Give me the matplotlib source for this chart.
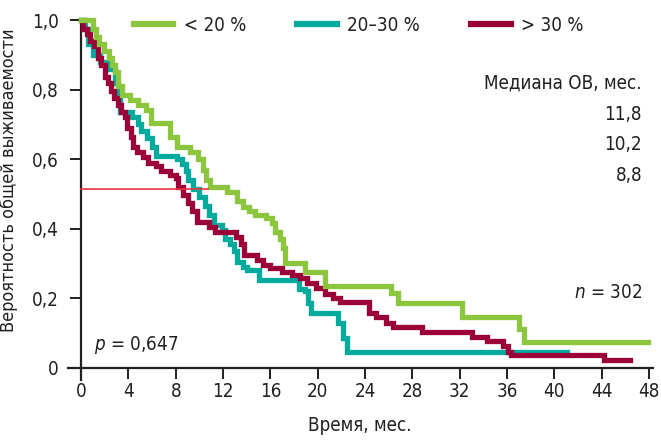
import matplotlib
matplotlib.use('Agg')
import matplotlib.pyplot as plt

plt.rcParams['font.family'] = ['DejaVu Sans']
plt.rcParams['font.stretch'] = 'condensed'
plt.rcParams['mathtext.fontset'] = 'dejavusans'

#**************************************************#
# data

green_t = [0, 1.0, 1.3, 1.5, 1.9, 2.4, 2.6, 2.9, 3.1, 3.5, 4.1, 4.8, 5.5, 5.9,
           7.5, 8.1, 9.2, 9.9, 10.3, 10.6, 10.9, 12.3, 13.2, 13.7, 14.2, 14.7,
           15.6, 16.1, 16.4, 16.8, 17.1, 17.2, 18.9, 20.6, 26.2, 26.8, 32.2,
           37.0, 37.4, 47.9]
green_s = [1.0, 0.975, 0.95, 0.93, 0.91, 0.89, 0.87, 0.85, 0.81, 0.785, 0.77,
           0.755, 0.74, 0.705, 0.665, 0.635, 0.62, 0.60, 0.57, 0.54, 0.52,
           0.505, 0.48, 0.463, 0.45, 0.44, 0.43, 0.415, 0.39, 0.37, 0.345,
           0.30, 0.275, 0.236, 0.216, 0.187, 0.147, 0.113, 0.073, 0.073]

teal_t = [0, 0.3, 0.6, 1.0, 1.6, 2.4, 2.9, 3.1, 3.3, 4.3, 4.8, 5.1, 5.6, 6.0,
          6.3, 8.1, 8.5, 8.9, 9.0, 9.5, 10.0, 10.5, 10.8, 11.2, 11.9, 12.2,
          12.6, 12.9, 13.2, 13.7, 14.0, 15.0, 18.4, 18.9, 19.2, 19.4, 21.7,
          22.1, 22.5, 41.1]
teal_s = [1.0, 0.975, 0.93, 0.90, 0.88, 0.86, 0.82, 0.79, 0.735, 0.72, 0.70,
          0.68, 0.66, 0.635, 0.61, 0.60, 0.585, 0.565, 0.54, 0.515, 0.49,
          0.465, 0.44, 0.41, 0.395, 0.37, 0.355, 0.335, 0.305, 0.29, 0.28,
          0.252, 0.228, 0.22, 0.187, 0.158, 0.128, 0.085, 0.045, 0.045]

red_t = [0, 0.2, 0.5, 0.8, 1.1, 1.4, 1.7, 2.0, 2.3, 2.5, 2.8, 3.1, 3.4, 3.7,
         3.9, 4.2, 4.4, 4.7, 5.2, 5.7, 6.3, 6.8, 7.5, 8.0, 8.2, 8.6, 9.0, 9.4,
         9.8, 10.8, 11.3, 13.1, 13.5, 13.8, 14.9, 15.4, 16.0, 17.0, 17.8,
         18.5, 19.1, 19.9, 20.6, 21.3, 21.9, 24.3, 24.9, 25.8, 26.4, 28.8,
         33.0, 34.3, 35.7, 36.1, 36.3, 44.2, 46.4]
red_s = [1.0, 0.975, 0.96, 0.94, 0.925, 0.89, 0.87, 0.835, 0.82, 0.795, 0.775,
         0.755, 0.735, 0.72, 0.69, 0.665, 0.635, 0.62, 0.605, 0.59, 0.58,
         0.565, 0.555, 0.545, 0.52, 0.497, 0.475, 0.45, 0.42, 0.405, 0.39,
         0.375, 0.355, 0.325, 0.31, 0.296, 0.287, 0.276, 0.266, 0.258, 0.244,
         0.23, 0.213, 0.20, 0.19, 0.158, 0.147, 0.13, 0.118, 0.104, 0.09,
         0.077, 0.062, 0.045, 0.037, 0.022, 0.022]

labels = ['< 20 %', '20–30 %', '> 30 %']
colors = ['#8cc63f', '#00ab9e', '#9c0038']
medians = ['11,8', '10,2', '8,8']
median_line_t = [0, 10.7]
median_line_s = [0.515, 0.515]

x_ticks = list(range(0, 49, 4))
y_ticks = [0, 0.2, 0.4, 0.6, 0.8, 1.0]
y_ticklabels = ['0', '0,2', '0,4', '0,6', '0,8', '1,0']

#**************************************************#
# create plot

fig = plt.figure(figsize=(6.61, 4.41), dpi=100)
ax = fig.add_axes([0.1029, 0.1383, 0.8843, 0.8163])

lw = 3.8
l_teal, = ax.step(teal_t, teal_s, where='post', color=colors[1], lw=lw,
                  clip_on=False, zorder=3, solid_joinstyle='miter')
l_red, = ax.step(red_t, red_s, where='post', color=colors[2], lw=lw,
                 clip_on=False, zorder=4, solid_joinstyle='miter')
l_green, = ax.step(green_t, green_s, where='post', color=colors[0], lw=lw,
                   clip_on=False, zorder=5, solid_joinstyle='miter')
ax.plot(median_line_t, median_line_s, color='#e8363c', lw=1.2, zorder=6)

ax.set_xlim(-1.1, 48.3)
ax.set_ylim(-0.035, 1.0)
ax.spines['left'].set_position(('data', 0))
ax.spines['bottom'].set_position(('data', 0))
ax.spines['top'].set_visible(False)
ax.spines['right'].set_visible(False)
for sp in ['left', 'bottom']:
    ax.spines[sp].set_linewidth(1.6)
    ax.spines[sp].set_color('#231f20')

ax.set_xticks(x_ticks)
ax.set_yticks(y_ticks)
ax.set_yticklabels(y_ticklabels)
ax.tick_params(axis='both', direction='out', length=8, width=1.4,
               colors='#231f20', labelsize=13.5)
ax.tick_params(axis='y', pad=8)
ax.tick_params(axis='x', pad=2)

ax.set_xlabel('Время, мес.', fontsize=13.5, color='#231f20', labelpad=11)
ax.set_ylabel('Вероятность общей выживаемости', fontsize=13,
              color='#231f20')
ax.yaxis.set_label_coords(-0.086, 0.555)

leg = ax.legend([l_green, l_teal, l_red], labels, ncol=3, frameon=False,
                fontsize=13.5, handlelength=2.1, handletextpad=0.55,
                columnspacing=2.75, loc='upper left',
                bbox_to_anchor=(0.1, 1.032), borderaxespad=0)
for h in leg.get_lines():
    h.set_linewidth(4.5)
for t in leg.get_texts():
    t.set_color('#231f20')

#**************************************************#
# annotations

ax.text(0.982, 0.825, 'Медиана ОВ, мес.', transform=ax.transAxes,
        ha='right', va='center', fontsize=13.5, color='#231f20')
for i, m in enumerate(medians):
    ax.text(0.982, 0.738 - i * 0.085, m, transform=ax.transAxes,
            ha='right', va='center', fontsize=13.5, color='#231f20')
ax.text(0.982, 0.242, r'$\mathit{n}$ = 302', transform=ax.transAxes,
        ha='right', va='center', fontsize=13.5, color='#231f20')
ax.text(0.045, 0.097, r'$\mathit{p}$ = 0,647', transform=ax.transAxes,
        ha='left', va='center', fontsize=13.5, color='#231f20')

fig.savefig('out.png', dpi=100)
